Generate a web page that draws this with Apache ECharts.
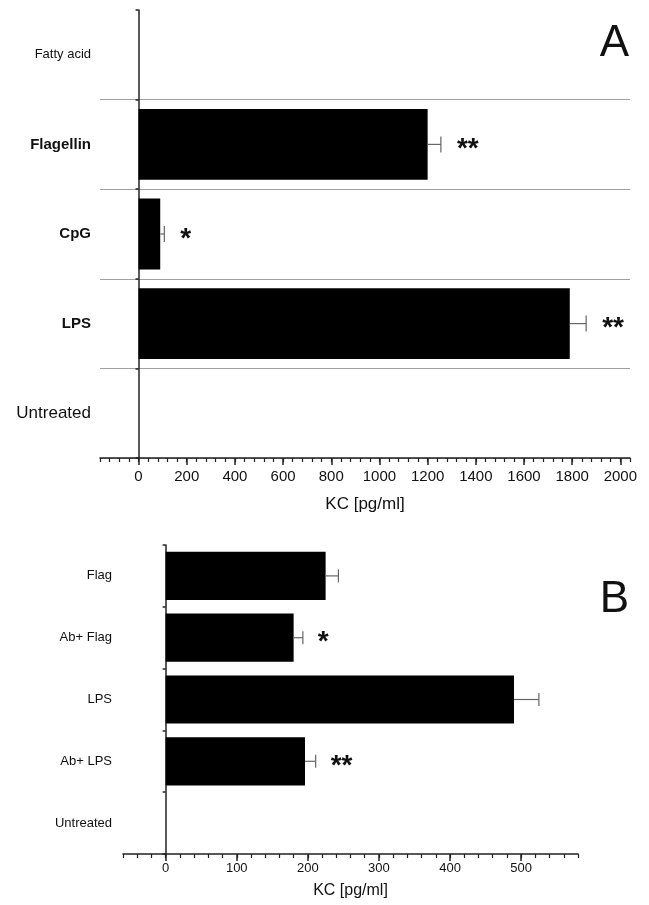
<!DOCTYPE html>
<html>
<head>
<meta charset="utf-8">
<script src="https://cdn.jsdelivr.net/npm/echarts@6/dist/echarts.min.js"></script>
<style>html,body{margin:0;padding:0;background:#fff}#c{width:649px;height:905px}</style>
</head>
<body>
<div id="c"></div>
<script>
// ---- data ----
const catsA = ['Fatty acid', 'Flagellin', 'CpG', 'LPS', 'Untreated'];
const valsA = [0, 1200, 90, 1790, 0];
const errA = [0, 55, 17, 68, 0];
const sigA = ['', '**', '*', '**', ''];
const ticksA = [0, 200, 400, 600, 800, 1000, 1200, 1400, 1600, 1800, 2000];

const catsB = ['Flag', 'Ab+ Flag', 'LPS', 'Ab+ LPS', 'Untreated'];
const valsB = [225, 180, 490, 196, 0];
const errB = [18, 13, 35, 15, 0];
const sigB = ['', '*', '', '**', ''];
const ticksB = [0, 100, 200, 300, 400, 500];

const FONT = '"Liberation Sans", Arial, sans-serif';
const boldA = new Set(['Flagellin', 'CpG', 'LPS']);

function errSeries(xi, yi, vals, errs, sigs, capH, gap) {
  return {
    type: 'custom', xAxisIndex: xi, yAxisIndex: yi, z: 5,
    data: vals.map((v, i) => [v, errs[i], i]),
    encode: { x: [0], y: 2 },
    renderItem: function (params, api) {
      const v = api.value(0), e = api.value(1), c = api.value(2);
      const s = sigs[params.dataIndex];
      const children = [];
      const p0 = api.coord([v, c]);
      const p1 = api.coord([v + e, c]);
      if (e > 0) {
        children.push({ type: 'line', shape: { x1: p0[0], y1: p0[1], x2: p1[0], y2: p1[1] }, style: { stroke: '#666', lineWidth: 1.2 } });
        children.push({ type: 'line', shape: { x1: p1[0], y1: p1[1] - capH / 2, x2: p1[0], y2: p1[1] + capH / 2 }, style: { stroke: '#666', lineWidth: 1.2 } });
      }
      if (s) {
        children.push({ type: 'text', style: { x: p1[0] + gap, y: p1[1] + 5, text: s, fill: '#111', font: 'bold 28px ' + FONT, textAlign: 'left', textVerticalAlign: 'middle' } });
      }
      return { type: 'group', children: children };
    }
  };
}

const plainNum = v => String(v);

const chart = echarts.init(document.getElementById('c'), null, { renderer: 'canvas' });
chart.setOption({
  animation: false,
  backgroundColor: '#fff',
  title: [
    { text: 'A', right: 15, top: 17, textStyle: { fontFamily: FONT, fontSize: 44, fontWeight: 'normal', color: '#111' } },
    { text: 'B', right: 15, top: 573, textStyle: { fontFamily: FONT, fontSize: 44, fontWeight: 'normal', color: '#111' } }
  ],
  grid: [
    { left: 100, width: 530, top: 10, height: 448, containLabel: false },
    { left: 123, width: 455, top: 545, height: 309, containLabel: false }
  ],
  xAxis: [
    { gridIndex: 0, type: 'value', position: 'bottom', min: -160, max: 2040, interval: 40,
      name: 'KC [pg/ml]', nameLocation: 'middle', nameGap: 38,
      nameTextStyle: { fontFamily: FONT, fontSize: 17, color: '#111' },
      axisLine: { show: true, lineStyle: { color: '#222', width: 1.5 } },
      axisTick: { show: true, length: 7, customValues: ticksA, lineStyle: { color: '#222', width: 1.5 } },
      axisLabel: { customValues: ticksA, formatter: plainNum, fontFamily: FONT, fontSize: 15, color: '#111', margin: 11 },
      splitLine: { show: false } },
    { gridIndex: 0, type: 'value', position: 'bottom', min: -160, max: 2040, interval: 40,
      axisLine: { show: false },
      axisTick: { show: true, length: 4, lineStyle: { color: '#222', width: 1.2 } },
      axisLabel: { show: false }, splitLine: { show: false } },
    { gridIndex: 1, type: 'value', position: 'bottom', min: -60, max: 580, interval: 20,
      name: 'KC [pg/ml]', nameLocation: 'middle', nameGap: 29,
      nameTextStyle: { fontFamily: FONT, fontSize: 16, color: '#111' },
      axisLine: { show: true, lineStyle: { color: '#222', width: 1.5 } },
      axisTick: { show: true, length: 7, customValues: ticksB, lineStyle: { color: '#222', width: 1.5 } },
      axisLabel: { customValues: ticksB, formatter: plainNum, fontFamily: FONT, fontSize: 13, color: '#111', margin: 8 },
      splitLine: { show: false } },
    { gridIndex: 1, type: 'value', position: 'bottom', min: -60, max: 580, interval: 20,
      axisLine: { show: false },
      axisTick: { show: true, length: 4, lineStyle: { color: '#222', width: 1.2 } },
      axisLabel: { show: false }, splitLine: { show: false } }
  ],
  yAxis: [
    { gridIndex: 0, type: 'category', data: catsA, inverse: true,
      axisLine: { show: true, onZero: true, lineStyle: { color: '#222', width: 1.5 } },
      axisTick: { show: true, length: 3, lineStyle: { color: '#222', width: 1.5 } },
      axisLabel: { margin: 9, fontFamily: FONT, color: '#111',
        formatter: v => boldA.has(v) ? '{b|' + v + '}' : (v === 'Fatty acid' ? '{s|' + v + '}' : '{n|' + v + '}'),
        rich: { b: { fontFamily: FONT, fontSize: 15, fontWeight: 'bold', color: '#111' },
                n: { fontFamily: FONT, fontSize: 17, color: '#111' },
                s: { fontFamily: FONT, fontSize: 13, color: '#111' } } },
      splitLine: { show: true, interval: (i) => i !== 0, lineStyle: { color: '#a0a0a0', width: 1.2 } } },
    { gridIndex: 0, type: 'category', data: catsA, inverse: true,
      axisLine: { show: false, onZero: true },
      axisTick: { show: true, inside: true, length: 3, lineStyle: { color: '#222', width: 1.5 } },
      axisLabel: { show: false }, splitLine: { show: false } },
    { gridIndex: 1, type: 'category', data: catsB, inverse: true,
      axisLine: { show: true, onZero: true, lineStyle: { color: '#222', width: 1.5 } },
      axisTick: { show: true, length: 3, lineStyle: { color: '#222', width: 1.5 } },
      axisLabel: { margin: 11, fontFamily: FONT, fontSize: 13, color: '#111' },
      splitLine: { show: false } },
    { gridIndex: 1, type: 'category', data: catsB, inverse: true,
      axisLine: { show: false, onZero: true },
      axisTick: { show: true, inside: true, length: 3, lineStyle: { color: '#222', width: 1.5 } },
      axisLabel: { show: false }, splitLine: { show: false } }
  ],
  series: [
    { type: 'bar', xAxisIndex: 0, yAxisIndex: 0, data: valsA, barCategoryGap: '21%',
      itemStyle: { color: '#000' }, z: 3 },
    errSeries(0, 0, valsA, errA, sigA, 16, 16),
    { type: 'bar', xAxisIndex: 2, yAxisIndex: 2, data: valsB, barCategoryGap: '22%',
      itemStyle: { color: '#000' }, z: 3 },
    errSeries(2, 2, valsB, errB, sigB, 13, 15)
  ]
});
</script>
</body>
</html>
